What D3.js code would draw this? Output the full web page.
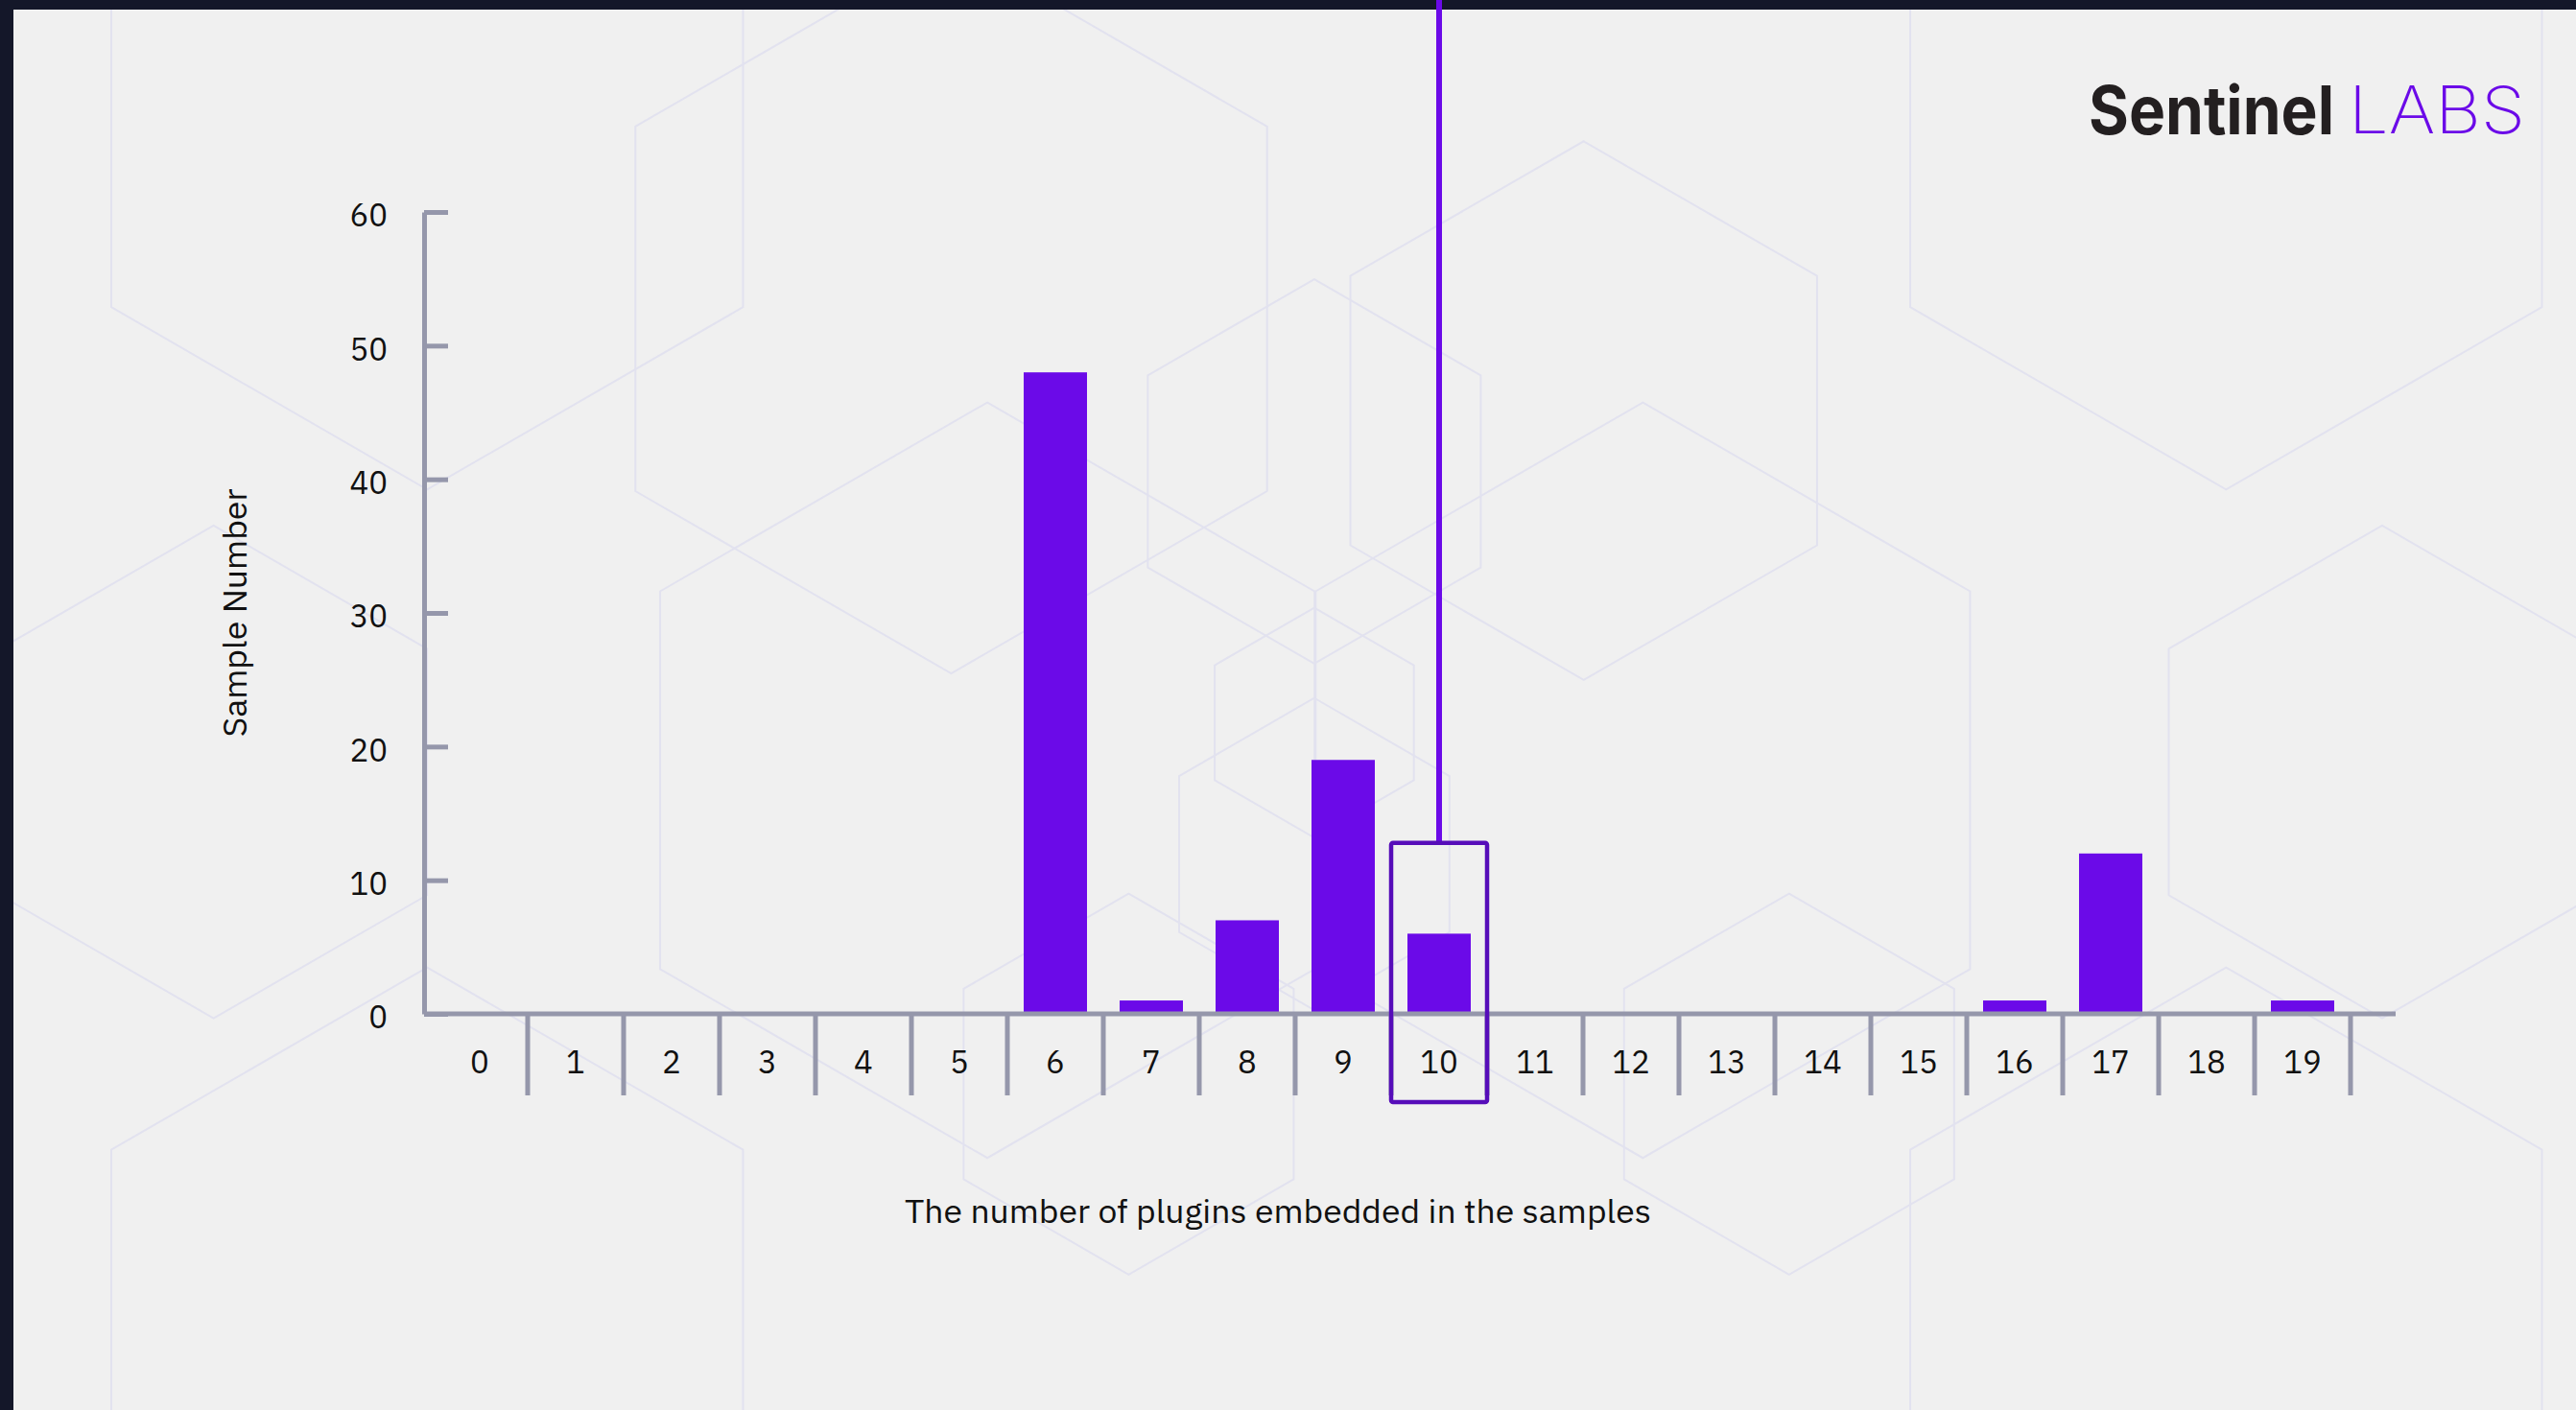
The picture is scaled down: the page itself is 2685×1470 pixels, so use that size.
<!DOCTYPE html>
<html>
<head>
<meta charset="utf-8">
<script src="https://cdn.jsdelivr.net/npm/d3@7"></script>
<style>
  html, body { margin: 0; padding: 0; background: #f0f0f0; overflow: hidden; }
  svg { display: block; }
</style>
</head>
<body>
<svg id="chart" width="2685" height="1470"></svg>
<script>
// ---- data ----
const categories = ["0","1","2","3","4","5","6","7","8","9","10","11","12","13","14","15","16","17","18","19"];
const sampleCounts = [0,0,0,0,0,0,48,1,7,19,6,0,0,0,0,0,1,12,0,1];
const yTickValues = [0,10,20,30,40,50,60];
const highlightCategory = "10";
const highlightTopValue = 12.8;
const xTitle = "The number of plugins embedded in the samples";
const yTitle = "Sample Number";

// decorative hexagon pattern (centre x, centre y, radius) in a 1568-wide design grid
const hexCentersX = [260, 1355, 260, 1355, 579, 964, 800, 601, 1000, 800, 800, 687, 1089, 1450, 130];
const hexCentersY = [76, 76, 811, 811, 188, 250, 287, 475, 475, 440, 520, 660, 660, 470, 470];
const hexRadii    = [222, 222, 222, 222, 222, 164, 117, 230, 230, 70, 95, 116, 116, 150, 150];

// ---- layout ----
const W = 2685, H = 1470;
const svg = d3.select("#chart");
const purple = "#6b0ae8";
const axisGrey = "#9597ab";
const font = "'IBM Plex Sans', 'Noto Sans', sans-serif";

svg.append("rect").attr("width", W).attr("height", H).attr("fill", "#f0f0f0");

// background hexagons
const gScale = W / 1568;
const hexG = svg.append("g");
hexCentersX.forEach((cx, i) => {
  const cy = hexCentersY[i], r = hexRadii[i];
  const pts = d3.range(6).map(k => {
    const a = Math.PI / 3 * k - Math.PI / 2;
    return [(cx + r * Math.cos(a)) * gScale, (cy + r * Math.sin(a)) * gScale];
  });
  hexG.append("path")
    .attr("d", d3.line()(pts) + "Z")
    .attr("fill", "none")
    .attr("stroke", "#e2e2ef")
    .attr("stroke-width", 2);
});

// dark frame
svg.append("rect").attr("x", 0).attr("y", 0).attr("width", W).attr("height", 10).attr("fill", "#141729");
svg.append("rect").attr("x", 0).attr("y", 0).attr("width", 14).attr("height", H).attr("fill", "#141729");

// scales
const x = d3.scaleBand().domain(categories).range([450, 2450]).paddingInner(0.34).paddingOuter(0.17);
const y = d3.scaleLinear().domain([0, 60]).range([1057, 221]);
const step = x.step();
const xTickLen = 85;

// y axis
const yAxis = svg.append("g")
  .attr("transform", "translate(442,0)")
  .call(d3.axisLeft(y).tickValues(yTickValues).tickSize(-25).tickSizeOuter(0).tickPadding(38));
yAxis.select(".domain").attr("stroke", axisGrey).attr("stroke-width", 5);
yAxis.selectAll(".tick line").attr("stroke", axisGrey).attr("stroke-width", 5);
yAxis.selectAll(".tick text").attr("fill", "#111").attr("dy", "0.45em")
  .style("font-family", font).style("font-size", "33px");

// bars
svg.append("g").selectAll("rect")
  .data(categories.map((c, i) => ({ c, v: sampleCounts[i] })).filter(d => d.v > 0))
  .join("rect")
  .attr("x", d => x(d.c))
  .attr("y", d => y(d.v))
  .attr("width", x.bandwidth())
  .attr("height", d => y(0) - y(d.v))
  .attr("fill", purple);

// x axis line
svg.append("line")
  .attr("x1", 442).attr("x2", 2497)
  .attr("y1", y(0)).attr("y2", y(0))
  .attr("stroke", axisGrey).attr("stroke-width", 5);

// x boundary ticks
svg.append("g").selectAll("line")
  .data(categories)
  .join("line")
  .attr("x1", d => x(d) + x.bandwidth() + (step - x.bandwidth()) / 2)
  .attr("x2", d => x(d) + x.bandwidth() + (step - x.bandwidth()) / 2)
  .attr("y1", y(0)).attr("y2", y(0) + xTickLen)
  .attr("stroke", axisGrey).attr("stroke-width", 5);

// x labels
const xAxis = svg.append("g")
  .attr("transform", `translate(0,${y(0)})`)
  .call(d3.axisBottom(x).tickSize(0).tickPadding(39));
xAxis.select(".domain").remove();
xAxis.selectAll(".tick text").attr("fill", "#111").style("font-family", font).style("font-size", "33px");

// highlight
const hx0 = x(highlightCategory) - (step - x.bandwidth()) / 2;
const hTop = y(highlightTopValue);
const hBottom = y(0) + xTickLen + 7;
svg.append("line")
  .attr("x1", x(highlightCategory) + x.bandwidth() / 2)
  .attr("x2", x(highlightCategory) + x.bandwidth() / 2)
  .attr("y1", 0).attr("y2", hTop)
  .attr("stroke", purple).attr("stroke-width", 6);
svg.append("rect")
  .attr("x", hx0).attr("y", hTop)
  .attr("width", step).attr("height", hBottom - hTop)
  .attr("rx", 2)
  .attr("fill", "none")
  .attr("stroke", "#560db9").attr("stroke-width", 4.5);

// axis titles
svg.append("text")
  .attr("x", 1332).attr("y", 1275)
  .attr("text-anchor", "middle")
  .attr("textLength", 778).attr("lengthAdjust", "spacingAndGlyphs")
  .style("font-family", font).style("font-size", "34px").attr("fill", "#111")
  .text(xTitle);
svg.append("text")
  .attr("transform", "translate(257,639) rotate(-90)")
  .attr("text-anchor", "middle")
  .attr("textLength", 259).attr("lengthAdjust", "spacingAndGlyphs")
  .style("font-family", font).style("font-size", "33px").attr("fill", "#111")
  .text(yTitle);

// logo
svg.append("text")
  .attr("x", 2177).attr("y", 140)
  .attr("textLength", 256).attr("lengthAdjust", "spacingAndGlyphs")
  .style("font-family", "Inter, 'Noto Sans', sans-serif").style("font-weight", 700).style("font-size", "70px")
  .attr("fill", "#231f20")
  .text("Sentinel");
svg.append("text")
  .attr("x", 2448).attr("y", 139)
  .attr("textLength", 184).attr("lengthAdjust", "spacingAndGlyphs")
  .style("font-family", "Inter, 'Noto Sans', sans-serif").style("font-weight", 200).style("font-size", "68px")
  .attr("fill", purple)
  .text("LABS");
</script>
</body>
</html>
